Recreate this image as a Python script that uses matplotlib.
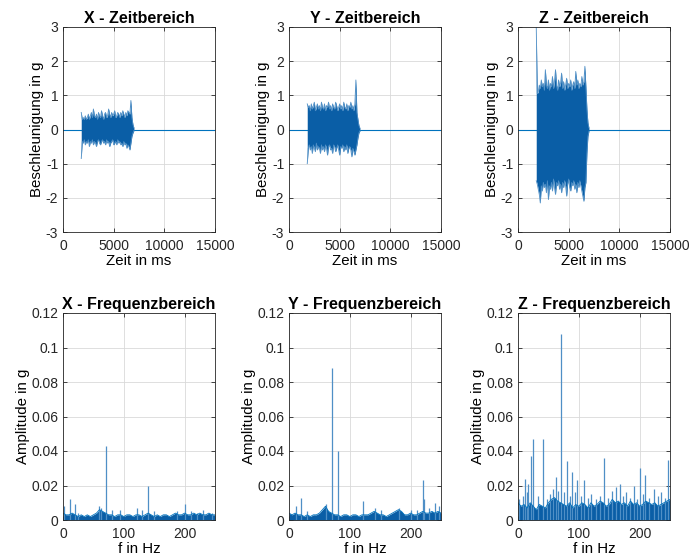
import numpy as np
import matplotlib.pyplot as plt

plt.rcParams["font.family"] = ["Liberation Sans", "DejaVu Sans"]
plt.rcParams["font.size"] = 10
plt.rcParams["axes.unicode_minus"] = False

# Zeitbereich: Hüllkurven des Signals, Raster 100 ms
t_env = np.arange(1800, 7001, 100)

x_up = [0.50, 0.30, 0.35, 0.30, 0.40, 0.30, 0.35, 0.45, 0.30, 0.40,
        0.50, 0.35, 0.60, 0.40, 0.35, 0.45, 0.30, 0.50, 0.40, 0.35,
        0.55, 0.40, 0.30, 0.45, 0.50, 0.35, 0.40, 0.60, 0.45, 0.35,
        0.50, 0.40, 0.45, 0.55, 0.35, 0.40, 0.50, 0.45, 0.35, 0.50,
        0.40, 0.55, 0.45, 0.35, 0.50, 0.40, 0.55, 0.50, 0.45, 0.85,
        0.35, 0.15, 0.05]
x_lo = [-0.85, -0.35, -0.40, -0.30, -0.45, -0.35, -0.40, -0.30, -0.50, -0.35,
        -0.40, -0.30, -0.45, -0.35, -0.40, -0.50, -0.35, -0.30, -0.40, -0.45,
        -0.35, -0.30, -0.40, -0.35, -0.45, -0.30, -0.40, -0.35, -0.50, -0.40,
        -0.35, -0.30, -0.45, -0.40, -0.35, -0.45, -0.30, -0.40, -0.35, -0.45,
        -0.40, -0.50, -0.35, -0.45, -0.40, -0.55, -0.45, -0.50, -0.60, -0.40,
        -0.20, -0.10, -0.03]

y_up = [0.75, 0.65, 0.70, 0.55, 0.75, 0.60, 0.70, 0.80, 0.55, 0.65,
        0.75, 0.60, 0.70, 0.55, 0.80, 0.65, 0.60, 0.75, 0.55, 0.70,
        0.65, 0.80, 0.60, 0.70, 0.55, 0.75, 0.65, 0.60, 0.80, 0.70,
        0.55, 0.65, 0.75, 0.60, 0.70, 0.55, 0.80, 0.65, 0.60, 0.75,
        0.55, 0.70, 0.65, 0.80, 0.60, 0.70, 0.55, 0.75, 1.45, 0.50,
        0.30, 0.12, 0.04]
y_lo = [-1.00, -0.55, -0.45, -0.60, -0.50, -0.70, -0.45, -0.55, -0.65, -0.40,
        -0.60, -0.50, -0.55, -0.70, -0.45, -0.60, -0.50, -0.65, -0.45, -0.55,
        -0.75, -0.50, -0.45, -0.60, -0.55, -0.70, -0.45, -0.50, -0.65, -0.55,
        -0.45, -0.60, -0.75, -0.50, -0.55, -0.45, -0.65, -0.50, -0.60, -0.45,
        -0.70, -0.55, -0.50, -0.60, -0.80, -0.55, -0.65, -0.75, -0.60, -0.45,
        -0.25, -0.10, -0.04]

z_up = [3.00, 1.05, 1.10, 1.30, 1.20, 1.45, 1.25, 1.35, 1.15, 1.75,
        1.30, 1.20, 1.45, 1.15, 1.35, 1.25, 1.55, 1.20, 1.40, 1.75,
        1.30, 1.15, 1.45, 1.25, 1.35, 1.65, 1.20, 1.40, 1.15, 1.30,
        1.50, 1.20, 1.35, 1.25, 1.45, 1.15, 1.30, 1.40, 1.20, 1.70,
        1.30, 1.45, 1.20, 1.35, 1.25, 1.55, 1.30, 1.40, 1.85, 1.25,
        0.60, 0.20, 0.05]
z_lo = [-1.50, -1.60, -1.75, -1.90, -2.15, -1.65, -1.80, -1.55, -1.70, -1.60,
        -1.85, -1.50, -2.05, -1.65, -1.75, -1.55, -1.80, -1.45, -1.70, -1.90,
        -1.55, -1.65, -1.50, -1.75, -1.60, -1.85, -1.55, -1.70, -1.50, -1.65,
        -1.95, -1.60, -1.45, -1.70, -1.80, -1.55, -1.65, -1.50, -1.75, -1.60,
        -1.85, -1.55, -1.70, -1.50, -1.65, -1.80, -1.95, -2.10, -1.70, -1.55,
        -0.70, -0.20, -0.05]

# Frequenzbereich: Grundrauschen (5-Hz-Raster) und einzelne Spitzen
f_band = np.arange(0, 251, 5)

x_band = [0.004, 0.003, 0.003, 0.004, 0.003, 0.002, 0.003, 0.002, 0.003, 0.002,
          0.003, 0.004, 0.006, 0.005, 0.004, 0.003, 0.003, 0.002, 0.003, 0.003,
          0.002, 0.003, 0.003, 0.002, 0.003, 0.003, 0.002, 0.003, 0.004, 0.003,
          0.002, 0.003, 0.002, 0.003, 0.003, 0.002, 0.003, 0.004, 0.003, 0.003,
          0.004, 0.003, 0.003, 0.004, 0.003, 0.004, 0.003, 0.003, 0.004, 0.003,
          0.003]
x_pk_f = [2, 11, 19, 25, 60, 63, 71, 80, 94, 122, 130, 140, 150, 187, 200, 210, 220, 230, 245]
x_pk_a = [0.008, 0.012, 0.009, 0.004, 0.008, 0.007, 0.043, 0.006, 0.006, 0.007,
          0.006, 0.020, 0.005, 0.005, 0.009, 0.005, 0.004, 0.006, 0.004]

y_band = [0.004, 0.003, 0.004, 0.003, 0.003, 0.002, 0.003, 0.002, 0.003, 0.003,
          0.004, 0.006, 0.008, 0.005, 0.004, 0.003, 0.003, 0.002, 0.003, 0.003,
          0.002, 0.003, 0.003, 0.002, 0.003, 0.003, 0.003, 0.004, 0.005, 0.004,
          0.003, 0.003, 0.002, 0.003, 0.004, 0.005, 0.006, 0.005, 0.003, 0.003,
          0.004, 0.003, 0.003, 0.004, 0.005, 0.004, 0.004, 0.005, 0.004, 0.005,
          0.004]
y_pk_f = [11, 19, 30, 61, 71, 80, 121, 141, 151, 181, 200, 210, 220, 222, 230, 240, 247]
y_pk_a = [0.008, 0.013, 0.005, 0.009, 0.088, 0.040, 0.011, 0.007, 0.006, 0.007,
          0.006, 0.006, 0.023, 0.012, 0.007, 0.010, 0.008]

z_band = [0.010, 0.008, 0.009, 0.007, 0.010, 0.008, 0.006, 0.009, 0.008, 0.007,
          0.010, 0.012, 0.013, 0.011, 0.010, 0.009, 0.008, 0.010, 0.007, 0.009,
          0.008, 0.010, 0.009, 0.007, 0.010, 0.008, 0.009, 0.011, 0.010, 0.008,
          0.009, 0.012, 0.010, 0.011, 0.009, 0.010, 0.008, 0.011, 0.009, 0.010,
          0.008, 0.009, 0.011, 0.010, 0.009, 0.010, 0.008, 0.009, 0.010, 0.011,
          0.012]
z_pk_f = [2, 8, 11, 15, 17, 22, 25, 33, 41, 47, 52, 58, 62, 66, 71, 76, 81, 85,
          89, 93, 97, 103, 109, 115, 120, 128, 135, 142, 148, 155, 161, 168,
          173, 177, 184, 190, 196, 200, 205, 209, 215, 223, 230, 236, 242, 247]
z_pk_a = [0.012, 0.014, 0.024, 0.016, 0.021, 0.037, 0.047, 0.014, 0.047, 0.012,
          0.015, 0.018, 0.025, 0.017, 0.108, 0.016, 0.034, 0.014, 0.028, 0.016,
          0.023, 0.014, 0.023, 0.013, 0.015, 0.012, 0.014, 0.036, 0.013, 0.017,
          0.019, 0.021, 0.014, 0.016, 0.013, 0.020, 0.012, 0.030, 0.015, 0.026,
          0.013, 0.018, 0.014, 0.016, 0.013, 0.035]

line_col = "#0072BD"
core_col = "#0a5ea6"
edge_col = "#4f8fc6"


def style_axes(ax):
    ax.grid(True, color="#d9d9d9", linewidth=0.6)
    ax.set_axisbelow(True)
    for s in ax.spines.values():
        s.set_color("#262626")
        s.set_linewidth(0.6)
    ax.tick_params(direction="in", length=3, width=0.6, top=True, right=True,
                   colors="#262626", labelsize=10)
    ax.tick_params(axis="x", pad=5)


fig = plt.figure(figsize=(6.89, 5.6), dpi=100)
lefts = [63, 289, 518]
w = 152
top_ax = [fig.add_axes([l / 689, 1 - 232 / 560, w / 689, 205 / 560]) for l in lefts]
bot_ax = [fig.add_axes([l / 689, 1 - 520 / 560, w / 689, 207 / 560]) for l in lefts]

time_data = [("X", x_up, x_lo), ("Y", y_up, y_lo), ("Z", z_up, z_lo)]
for ax, (name, up, lo) in zip(top_ax, time_data):
    style_axes(ax)
    ax.plot([0, 1800], [0, 0], color=line_col, lw=0.8)
    ax.plot([7000, 15000], [0, 0], color=line_col, lw=0.8)
    ax.fill_between(t_env, lo, up, color=core_col, lw=0)
    ax.plot(t_env, up, color=edge_col, lw=0.6)
    ax.plot(t_env, lo, color=edge_col, lw=0.6)
    ax.set_xlim(0, 15000)
    ax.set_ylim(-3, 3)
    ax.set_xticks([0, 5000, 10000, 15000])
    ax.set_yticks([-3, -2, -1, 0, 1, 2, 3])
    ax.set_title(f"{name} - Zeitbereich", fontweight="bold", fontsize=11.5, pad=3)
    ax.set_xlabel("Zeit in ms", fontsize=10.8, labelpad=1)
    ax.set_ylabel("Beschleunigung in g", fontsize=10.8, labelpad=1)

freq_data = [("X", x_band, x_pk_f, x_pk_a), ("Y", y_band, y_pk_f, y_pk_a),
             ("Z", z_band, z_pk_f, z_pk_a)]
for ax, (name, band, pf, pa) in zip(bot_ax, freq_data):
    style_axes(ax)
    ax.vlines(pf, 0, pa, color=edge_col, lw=0.9)
    ax.fill_between(f_band, 0, band, color=core_col, lw=0)
    ax.plot(f_band, band, color=line_col, lw=0.6)
    ax.set_xlim(0, 250)
    ax.set_ylim(0, 0.12)
    ax.set_xticks([0, 100, 200])
    ax.set_yticks([0, 0.02, 0.04, 0.06, 0.08, 0.1, 0.12])
    ax.set_yticklabels(["0", "0.02", "0.04", "0.06", "0.08", "0.1", "0.12"])
    ax.set_title(f"{name} - Frequenzbereich", fontweight="bold", fontsize=11.5, pad=3)
    ax.set_xlabel("f in Hz", fontsize=10.8, labelpad=1)
    ax.set_ylabel("Amplitude in g", fontsize=10.8, labelpad=1)

fig.savefig("out.png", dpi=100)
